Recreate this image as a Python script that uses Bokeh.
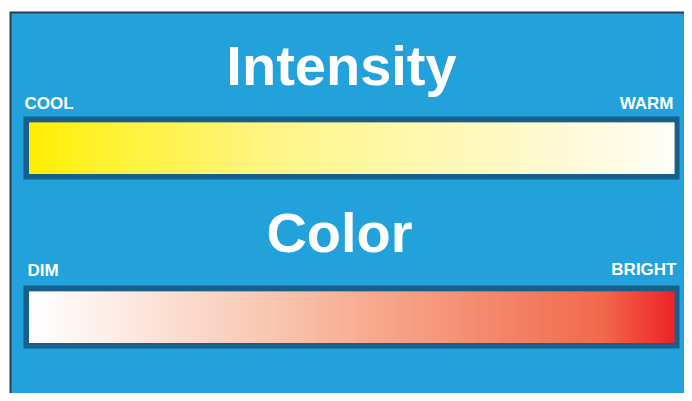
from bokeh.plotting import figure
from bokeh.models import Range1d, ColumnDataSource
from bokeh.embed import file_html
from bokeh.resources import INLINE
from bokeh.core.properties import value
import numpy as np

# ---- data ----
titles = ["Intensity", "Color"]
left_labels = ["COOL", "DIM"]
right_labels = ["WARM", "BRIGHT"]
# gradient colour stops (fraction along bar, colour)
intensity_stops = [0.0, 0.11, 0.375, 0.55, 0.89, 1.0]
intensity_colors = ["#ffee00", "#fff22e", "#fff585", "#fff7a5", "#fffbe0", "#fffef8"]
color_stops = [0.0, 0.11, 0.375, 0.55, 0.89, 1.0]
color_colors = ["#ffffff", "#fdf0ea", "#f9c6b0", "#f7a68a", "#f1684c", "#ee2326"]

W, H = 684, 393
p = figure(width=W, height=H, output_backend="svg", toolbar_location=None,
           x_range=Range1d(0, W), y_range=Range1d(H, 0),
           min_border=0, min_border_left=0, min_border_right=0,
           min_border_top=0, min_border_bottom=0)
p.axis.visible = False
p.grid.visible = False
p.outline_line_color = None
p.background_fill_color = "white"
p.border_fill_color = "white"

# panel
p.quad(left=9, right=W + 2, top=11, bottom=H + 2, fill_color="#2e3d4c", line_color=None)
p.quad(left=11, right=W + 2, top=13, bottom=H + 2, fill_color="#23a1db", line_color=None)


def hex2rgb(h):
    h = h.lstrip("#")
    return np.array([int(h[i:i + 2], 16) for i in (0, 2, 4)], dtype=float)


def gradient(stops, cols, n):
    rgb = np.array([hex2rgb(c) for c in cols])
    t = (np.arange(n) + 0.5) / n
    out = []
    for ti in t:
        r = np.interp(ti, stops, rgb[:, 0])
        g = np.interp(ti, stops, rgb[:, 1])
        b = np.interp(ti, stops, rgb[:, 2])
        out.append("#%02x%02x%02x" % (int(round(r)), int(round(g)), int(round(b))))
    return out


bars = [
    dict(top=116, stops=intensity_stops, cols=intensity_colors),
    dict(top=285, stops=color_stops, cols=color_colors),
]
OL, OR = 23, 679
IL, IR = 28.5, 673.5
for b in bars:
    t = b["top"]
    p.quad(left=OL, right=OR, top=t, bottom=t + 63, fill_color="#17608c", line_color=None)
    n = int(IR - IL)
    edges = np.linspace(IL, IR, n + 1)
    src = ColumnDataSource(dict(l=edges[:-1], r=edges[1:] + 0.6,
                                c=gradient(b["stops"], b["cols"], n)))
    p.quad(left="l", right="r", top=t + 6, bottom=t + 57.5, fill_color="c",
           line_color=None, source=src)

font = value("Liberation Sans")
p.text(x=[341, 339], y=[65, 232], text=titles, text_font=font, text_font_size="56px",
       text_font_style="bold", text_color="white", text_align="center",
       text_baseline="alphabetic")
p.text(x=[24, 27], y=[103, 270], text=left_labels, text_font=font, text_font_size="17px",
       text_font_style="bold", text_color="white", text_align="left",
       text_baseline="alphabetic")
p.text(x=[673, 676], y=[103, 269], text=right_labels, text_font=font, text_font_size="17px",
       text_font_style="bold", text_color="white", text_align="right",
       text_baseline="alphabetic")

open("out.html", "w").write(file_html(p, INLINE))
